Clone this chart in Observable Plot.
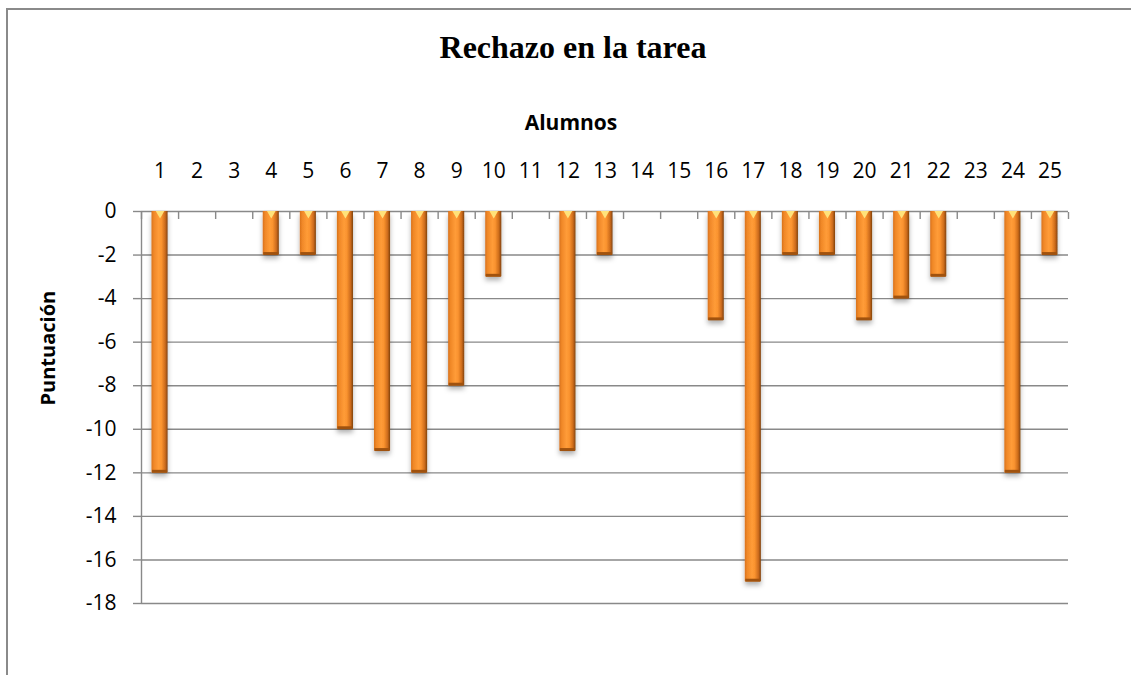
<!DOCTYPE html>
<html>
<head>
<meta charset="utf-8">
<script src="https://cdn.jsdelivr.net/npm/d3@7"></script>
<script src="https://cdn.jsdelivr.net/npm/@observablehq/plot@0.6"></script>
<style>
  html, body { margin: 0; padding: 0; background: #fff; overflow: hidden; width: 1131px; height: 675px; }
  #wrap { position: relative; width: 1131px; height: 675px; overflow: hidden; background: #fff; }
  #bTop { position: absolute; left: 6px; top: 8px; width: 1125px; height: 2px; background: #8a8a8a; z-index: 11; }
  #bLeft { position: absolute; left: 6px; top: 8px; width: 2px; height: 667px; background: #8a8a8a; z-index: 11; }
  #cover { position: absolute; left: 1090px; top: 10px; width: 41px; height: 665px; background: #fff; z-index: 10; }
  #title { position: absolute; left: 0; top: 31px; width: 1131px; padding-left: 15px; box-sizing: border-box; text-align: center;
           font-family: "Liberation Serif", "Times New Roman", serif; font-weight: bold;
           font-size: 32px; line-height: 1; color: #000; white-space: nowrap; }
  #chart { position: absolute; left: 0; top: 90px; width: 1131px; height: 585px; }
  #chart svg { display: block; }
</style>
</head>
<body>
<div id="wrap">
  <div id="title">Rechazo en la tarea</div>
  <div id="chart"></div>
  <div id="cover"></div>
  <div id="bTop"></div>
  <div id="bLeft"></div>
</div>
<script>
const alumnos = ["1","2","3","4","5","6","7","8","9","10","11","12","13","14","15","16","17","18","19","20","21","22","23","24","25"];
const puntuacion = [-12, 0, 0, -2, -2, -10, -11, -12, -8, -3, 0, -11, -2, 0, 0, -5, -17, -2, -2, -5, -4, -3, 0, -12, -2];
const yTicks = [0, -2, -4, -6, -8, -10, -12, -14, -16, -18];
const xLabel = "Alumnos";
const yLabel = "Puntuación";

const data = alumnos.map((a, i) => ({alumno: a, value: puntuacion[i]}));
const nonZero = data.filter(d => d.value !== 0);

const W = 1131, H = 585;
const mL = 141, mR = 63, mT = 121, mB = 72;
const half = (W - mL - mR) / alumnos.length / 2;
const font = "'Open Sans', 'Noto Sans', sans-serif";
const gray = "#898989";
const inset = 10.5;

const svg = Plot.plot({
  width: W, height: H,
  marginLeft: mL, marginRight: mR, marginTop: mT, marginBottom: mB,
  style: {fontFamily: font, fontSize: "21px", color: "#000", background: "transparent"},
  x: {type: "band", domain: alumnos, padding: 0, round: false, label: null},
  y: {domain: [-18, 0], label: null},
  marks: [
    Plot.gridY(yTicks, {stroke: gray, strokeOpacity: 1, strokeWidth: 1.4}),
    Plot.ruleX([alumnos[0]], {dx: -half, y1: -18, y2: 0, stroke: gray, strokeWidth: 1.4}),
    Plot.axisY(yTicks, {tickSize: 8, tickPadding: 17, tickFormat: d => String(d), stroke: gray, strokeWidth: 1.4, fill: "#000", fontSize: 21, label: null}),
    Plot.axisX({anchor: "top", tickSize: 0, tickPadding: 34, fill: "#000", fontSize: 21, label: null}),
    Plot.axisX({anchor: "top", text: null, tickSize: 7, dy: 7, dx: -half, stroke: gray, strokeWidth: 1.4, label: null}),
    Plot.axisX([alumnos[alumnos.length - 1]], {anchor: "top", text: null, tickSize: 7, dy: 7, dx: half, stroke: gray, strokeWidth: 1.4, label: null}),
    Plot.barY(data, {x: "alumno", y: "value", fill: "url(#barGrad)", insetLeft: inset, insetRight: inset}),
    Plot.tickY(nonZero, {x: "alumno", y: "value", stroke: "#a0520e", strokeWidth: 3, dy: -1.5, insetLeft: inset + 0.5, insetRight: inset + 0.5}),
    Plot.dot(nonZero, {x: "alumno", y: () => 0, symbol: "triangle", rotate: 180, r: 3.2, fill: "#FFE27A", stroke: "none", dy: 2}),
    Plot.text([xLabel], {frameAnchor: "top", dx: -34, dy: -88, lineAnchor: "middle", fontWeight: "bold", fontSize: 21, fill: "#000"}),
    Plot.text([yLabel], {frameAnchor: "left", rotate: -90, dx: -93, dy: -2, lineAnchor: "middle", fontWeight: "bold", fontSize: 20, fill: "#000"})
  ]
});

// gradient + shadow definitions
const ns = "http://www.w3.org/2000/svg";
const defs = document.createElementNS(ns, "defs");
defs.innerHTML = `
  <linearGradient id="barGrad" x1="0" y1="0" x2="1" y2="0">
    <stop offset="0" stop-color="#D8721C"/>
    <stop offset="0.15" stop-color="#F08828"/>
    <stop offset="0.45" stop-color="#FF9C38"/>
    <stop offset="0.62" stop-color="#FA932F"/>
    <stop offset="0.85" stop-color="#CC6B1C"/>
    <stop offset="1" stop-color="#80420D"/>
  </linearGradient>
  <filter id="barShadow" x="-50%" y="-10%" width="200%" height="130%">
    <feDropShadow dx="0" dy="4" stdDeviation="2.5" flood-color="#000" flood-opacity="0.3"/>
  </filter>`;
svg.insertBefore(defs, svg.firstChild);
const barG = svg.querySelector('g[aria-label="bar"]');
if (barG) barG.setAttribute("filter", "url(#barShadow)");

document.getElementById("chart").appendChild(svg);
</script>
</body>
</html>
